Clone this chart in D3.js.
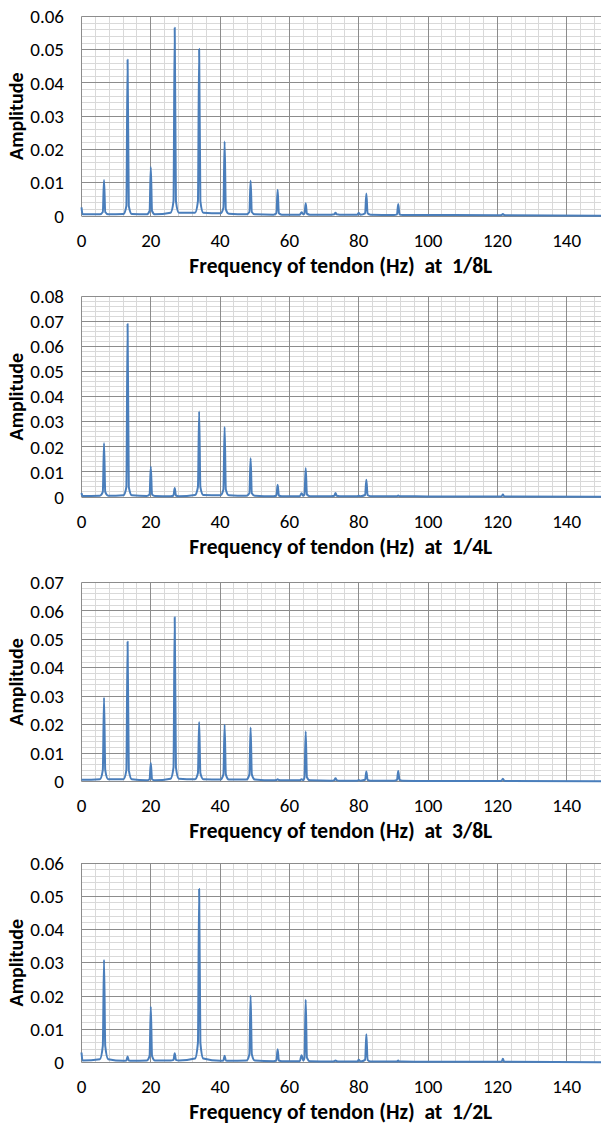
<!DOCTYPE html>
<html>
<head>
<meta charset="utf-8">
<script src="https://cdn.jsdelivr.net/npm/d3@7"></script>
<style>
  body { margin: 0; background: #fff; }
  svg { display: block; font-family: Carlito, Calibri, Lato, sans-serif; }
</style>
</head>
<body>
<div id="chart"></div>
<script>
// frequency points (Hz), shared by the four spectra
const freq = [
  0, 0.3,
  5.3, 6.15, 6.5, 6.85, 7.7,
  12.1, 12.95, 13.3, 13.65, 14.5,
  18.8, 19.65, 20.0, 20.35, 21.2,
  25.7, 26.55, 26.9, 27.25, 28.1,
  32.75, 33.6, 33.95, 34.3, 35.15,
  40.1, 40.95, 41.3, 41.65, 42.5,
  47.6, 48.45, 48.8, 49.15, 50.0,
  55.4, 56.25, 56.6, 56.95, 57.8,
  63.0, 63.5, 64.0, 64.35, 64.7, 65.05, 65.9,
  72.1, 72.95, 73.3, 73.65, 74.5,
  79.6, 80.0, 80.5, 81.85, 82.2, 82.55, 83.4,
  90.2, 91.05, 91.4, 91.75, 92.6,
  100,
  120.4, 121.25, 121.6, 121.95, 122.8,
  150
];

// amplitude at 1/8L
const amp18 = [
  0.0026, 0.0005,
  0.0005, 0.0012, 0.0108, 0.0012, 0.0005,
  0.0006, 0.003, 0.047, 0.003, 0.0006,
  0.0005, 0.0015, 0.0147, 0.0015, 0.0005,
  0.001, 0.0045, 0.0566, 0.0045, 0.001,
  0.001, 0.0045, 0.0502, 0.0045, 0.001,
  0.0008, 0.0025, 0.0224, 0.002, 0.0007,
  0.0005, 0.0012, 0.0106, 0.0012, 0.0005,
  0.0004, 0.0008, 0.0079, 0.0008, 0.0004,
  0.0004, 0.0011, 0.0005, 0.0007, 0.0038, 0.0007, 0.0004,
  0.0004, 0.0005, 0.001, 0.0005, 0.0004,
  0.0004, 0.0009, 0.0004, 0.0008, 0.0068, 0.0008, 0.0004,
  0.0003, 0.0005, 0.0036, 0.0005, 0.0003,
  0.0003,
  0.0002, 0.0003, 0.0006, 0.0003, 0.0002,
  0.0001
];

// amplitude at 1/4L
const amp14 = [
  0.0016, 0.0004,
  0.0005, 0.002, 0.0215, 0.002, 0.0005,
  0.0007, 0.004, 0.069, 0.004, 0.0007,
  0.0004, 0.001, 0.0122, 0.001, 0.0004,
  0.0003, 0.0006, 0.0036, 0.0006, 0.0003,
  0.0008, 0.004, 0.0341, 0.004, 0.0008,
  0.0007, 0.003, 0.0279, 0.003, 0.0007,
  0.0005, 0.0015, 0.0155, 0.0015, 0.0005,
  0.0003, 0.0006, 0.0049, 0.0006, 0.0003,
  0.0003, 0.0015, 0.0005, 0.001, 0.0116, 0.001, 0.0003,
  0.0003, 0.0005, 0.0016, 0.0005, 0.0003,
  0.0003, 0.0005, 0.0003, 0.0008, 0.0069, 0.0008, 0.0003,
  0.0003, 0.0003, 0.0006, 0.0003, 0.0003,
  0.0002,
  0.0002, 0.0003, 0.001, 0.0003, 0.0002,
  0.0001
];

// amplitude at 3/8L
const amp38 = [
  0.0006, 0.0006,
  0.0008, 0.004, 0.0295, 0.004, 0.0008,
  0.0008, 0.004, 0.0492, 0.004, 0.0008,
  0.0004, 0.0008, 0.0065, 0.0008, 0.0004,
  0.001, 0.005, 0.0578, 0.005, 0.001,
  0.0008, 0.003, 0.0209, 0.003, 0.0008,
  0.0007, 0.0025, 0.020, 0.0025, 0.0007,
  0.0007, 0.0025, 0.019, 0.0025, 0.0007,
  0.0004, 0.0005, 0.0008, 0.0005, 0.0004,
  0.0004, 0.0008, 0.0005, 0.0015, 0.0176, 0.0015, 0.0004,
  0.0003, 0.0005, 0.0011, 0.0005, 0.0003,
  0.0003, 0.0005, 0.0003, 0.0006, 0.0035, 0.0006, 0.0003,
  0.0003, 0.0006, 0.0037, 0.0006, 0.0003,
  0.0002,
  0.0002, 0.0003, 0.001, 0.0003, 0.0002,
  0.0001
];

// amplitude at 1/2L
const amp12 = [
  0.003, 0.0006,
  0.001, 0.005, 0.0309, 0.005, 0.001,
  0.0005, 0.0006, 0.0018, 0.0006, 0.0005,
  0.0006, 0.002, 0.0168, 0.002, 0.0006,
  0.0006, 0.0008, 0.0028, 0.0008, 0.0006,
  0.0012, 0.006, 0.0522, 0.006, 0.0012,
  0.0005, 0.0006, 0.002, 0.0006, 0.0005,
  0.0006, 0.0025, 0.0201, 0.0025, 0.0006,
  0.0004, 0.0006, 0.004, 0.0006, 0.0004,
  0.0004, 0.0022, 0.0006, 0.0015, 0.0189, 0.0015, 0.0004,
  0.0003, 0.0004, 0.0006, 0.0004, 0.0003,
  0.0003, 0.0008, 0.0003, 0.0008, 0.0085, 0.0008, 0.0003,
  0.0003, 0.0003, 0.0006, 0.0003, 0.0003,
  0.0002,
  0.0002, 0.0003, 0.0011, 0.0003, 0.0002,
  0.0001
];

const positions = ["1/8L", "1/4L", "3/8L", "1/2L"];
const yMaxes = [0.06, 0.08, 0.07, 0.06];
const xTicks = [0, 20, 40, 60, 80, 100, 120, 140];

const panels = [
  { amp: amp18, top: 16.5, bottom: 216 },
  { amp: amp14, top: 296.5, bottom: 497 },
  { amp: amp38, top: 582.5, bottom: 781.5 },
  { amp: amp12, top: 863, bottom: 1062.5 }
];

const W = 601, H = 1129;
const left = 81.5, right = 601.3;

const svg = d3.select("#chart").append("svg")
  .attr("width", W)
  .attr("height", H);

const crisp = v => Math.round(v - 0.5) + 0.5;

panels.forEach((p, i) => {
  const yMax = yMaxes[i];
  const x = d3.scaleLinear().domain([0, 150]).range([left, right]);
  const y = d3.scaleLinear().domain([0, yMax]).range([p.bottom, p.top]);
  const g = svg.append("g");

  // minor grid
  const xMinor = d3.range(0, 151, 4).filter(v => v % 20 !== 0);
  const yMinor = d3.range(0, Math.round(yMax / 0.002) + 1).map(k => k * 0.002)
    .filter(v => Math.abs(v / 0.01 - Math.round(v / 0.01)) > 1e-6);
  g.append("g").selectAll("line").data(xMinor).join("line")
    .attr("x1", d => crisp(x(d))).attr("x2", d => crisp(x(d)))
    .attr("y1", p.top).attr("y2", p.bottom)
    .attr("stroke", "#d9d9d9").attr("stroke-width", 1);
  g.append("g").selectAll("line").data(yMinor).join("line")
    .attr("x1", left).attr("x2", right)
    .attr("y1", d => crisp(y(d))).attr("y2", d => crisp(y(d)))
    .attr("stroke", "#d9d9d9").attr("stroke-width", 1);

  // major grid
  const yMajor = d3.range(0, Math.round(yMax / 0.01) + 1).map(k => k * 0.01);
  g.append("g").selectAll("line").data(d3.range(0, 151, 20)).join("line")
    .attr("x1", d => crisp(x(d))).attr("x2", d => crisp(x(d)))
    .attr("y1", p.top).attr("y2", p.bottom)
    .attr("stroke", "#8c8c8c").attr("stroke-width", 1);
  g.append("g").selectAll("line").data(yMajor).join("line")
    .attr("x1", left).attr("x2", right)
    .attr("y1", d => crisp(y(d))).attr("y2", d => crisp(y(d)))
    .attr("stroke", "#8c8c8c").attr("stroke-width", 1);

  // y tick labels
  g.append("g").selectAll("text").data(yMajor).join("text")
    .attr("x", 64)
    .attr("y", d => y(d))
    .attr("dy", "0.35em")
    .attr("text-anchor", "end")
    .style("font-size", "19px")
    .attr("fill", "#000")
    .text(d => d === 0 ? "0" : d3.format(".2f")(d));

  // x tick labels
  g.append("g").selectAll("text").data(xTicks).join("text")
    .attr("x", d => x(d))
    .attr("y", p.bottom + 24)
    .attr("dy", "0.35em")
    .attr("text-anchor", "middle")
    .style("font-size", "19px")
    .attr("fill", "#000")
    .text(d => d);

  // spectrum
  const line = d3.line()
    .x((d, j) => x(freq[j]))
    .y(d => y(d))
    .curve(d3.curveMonotoneX);
  g.append("path")
    .datum(p.amp)
    .attr("fill", "none")
    .attr("stroke", "#4a7ebb")
    .attr("stroke-width", 2)
    .attr("stroke-linejoin", "round")
    .attr("d", line);

  // axis titles
  g.append("text")
    .attr("x", (left + 600) / 2)
    .attr("y", p.bottom + 49)
    .attr("dy", "0.35em")
    .attr("text-anchor", "middle")
    .style("font-size", "21.5px")
    .style("font-weight", "bold")
    .attr("xml:space", "preserve")
    .text("Frequency of tendon (Hz)  at  " + positions[i]);

  g.append("text")
    .attr("transform", `translate(16,${(p.top + p.bottom) / 2}) rotate(-90)`)
    .attr("dy", "0.35em")
    .attr("text-anchor", "middle")
    .style("font-size", "20px")
    .style("font-weight", "bold")
    .text("Amplitude");
});
</script>
</body>
</html>
